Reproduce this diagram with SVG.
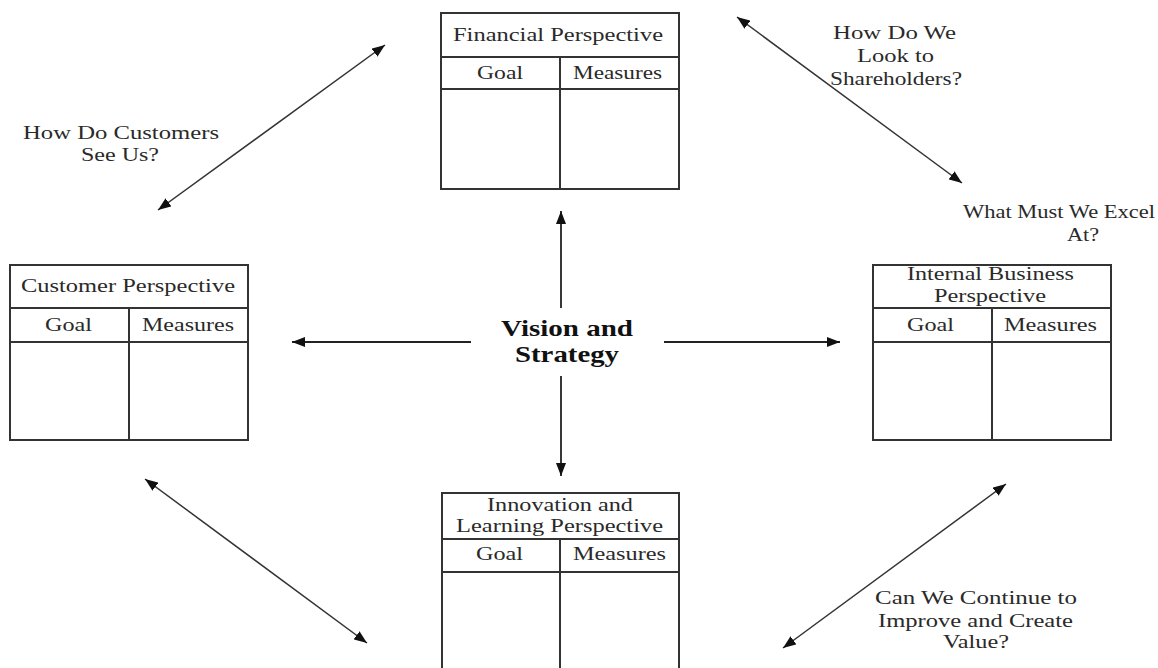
<svg xmlns="http://www.w3.org/2000/svg" width="1158" height="668" viewBox="0 0 1158 668">
<defs>
<marker id="ah" viewBox="0 0 13 10" refX="13" refY="5" markerWidth="13" markerHeight="10" markerUnits="userSpaceOnUse" orient="auto-start-reverse">
<path d="M0,0 L13,5 L0,10 z" fill="#111"/>
</marker>
<style>
.box{fill:#fff;stroke:#333;stroke-width:2}
.ln{stroke:#333;stroke-width:2;fill:none}
.t{font-family:"Liberation Serif","Times New Roman",serif;font-size:19px;fill:#2a2a2a}
.b{font-family:"Liberation Serif","Times New Roman",serif;font-size:23px;font-weight:bold;fill:#111}
.c{stroke:#333;stroke-width:1.5;fill:none;marker-start:url(#ah);marker-end:url(#ah)}
.c1{stroke:#222;stroke-width:1.8;fill:none;marker-end:url(#ah)}
</style>
</defs>
<rect width="1158" height="668" fill="#fff"/>

<g id="financial">
<rect class="box" x="441" y="13" width="238" height="176"/>
<path class="ln" d="M441,57 H679 M441,89 H679 M560,57 V189"/>
<text class="t" x="453" y="41" textLength="210" lengthAdjust="spacingAndGlyphs">Financial Perspective</text>
<text class="t" x="477" y="79" textLength="46" lengthAdjust="spacingAndGlyphs">Goal</text>
<text class="t" x="573" y="79" textLength="89" lengthAdjust="spacingAndGlyphs">Measures</text>
</g>

<g id="customer">
<rect class="box" x="10" y="265" width="238" height="175"/>
<path class="ln" d="M10,308 H248 M10,342 H248 M129,308 V440"/>
<text class="t" x="21" y="292" textLength="214" lengthAdjust="spacingAndGlyphs">Customer Perspective</text>
<text class="t" x="45" y="331" textLength="47" lengthAdjust="spacingAndGlyphs">Goal</text>
<text class="t" x="142" y="331" textLength="92" lengthAdjust="spacingAndGlyphs">Measures</text>
</g>

<g id="internal">
<rect class="box" x="873" y="265" width="238" height="175"/>
<path class="ln" d="M873,308 H1111 M873,342 H1111 M992,308 V440"/>
<text class="t" x="907" y="280" textLength="167" lengthAdjust="spacingAndGlyphs">Internal Business</text>
<text class="t" x="934" y="302" textLength="112" lengthAdjust="spacingAndGlyphs">Perspective</text>
<text class="t" x="907" y="331" textLength="47" lengthAdjust="spacingAndGlyphs">Goal</text>
<text class="t" x="1004" y="331" textLength="93" lengthAdjust="spacingAndGlyphs">Measures</text>
</g>

<g id="innovation">
<rect class="box" x="442" y="493" width="237" height="200"/>
<path class="ln" d="M442,539 H679 M442,572 H679 M560,539 V693"/>
<text class="t" x="487" y="511" textLength="146" lengthAdjust="spacingAndGlyphs">Innovation and</text>
<text class="t" x="456" y="532" textLength="207" lengthAdjust="spacingAndGlyphs">Learning Perspective</text>
<text class="t" x="476" y="560" textLength="47" lengthAdjust="spacingAndGlyphs">Goal</text>
<text class="t" x="573" y="560" textLength="93" lengthAdjust="spacingAndGlyphs">Measures</text>
</g>

<g id="vision">
<text class="b" x="501" y="336" textLength="132" lengthAdjust="spacingAndGlyphs">Vision and</text>
<text class="b" x="515" y="362" textLength="104" lengthAdjust="spacingAndGlyphs">Strategy</text>
</g>

<g id="connectors">
<line class="c1" x1="561" y1="308" x2="561" y2="211"/>
<line class="c1" x1="561" y1="376" x2="561" y2="476"/>
<line class="c1" x1="471" y1="342" x2="292" y2="342"/>
<line class="c1" x1="664" y1="342" x2="840" y2="342"/>
<line class="c" x1="158" y1="210" x2="385" y2="45"/>
<line class="c" x1="737" y1="17" x2="962" y2="183"/>
<line class="c" x1="145" y1="479" x2="367" y2="643"/>
<line class="c" x1="1006" y1="484" x2="783" y2="648"/>
</g>

<g id="labels">
<text class="t" x="23" y="139" textLength="196" lengthAdjust="spacingAndGlyphs">How Do Customers</text>
<text class="t" x="81" y="161" textLength="78" lengthAdjust="spacingAndGlyphs">See Us?</text>
<text class="t" x="833" y="39" textLength="123" lengthAdjust="spacingAndGlyphs">How Do We</text>
<text class="t" x="857" y="62" textLength="77" lengthAdjust="spacingAndGlyphs">Look to</text>
<text class="t" x="830" y="85" textLength="132" lengthAdjust="spacingAndGlyphs">Shareholders?</text>
<text class="t" x="963" y="218" textLength="192" lengthAdjust="spacingAndGlyphs">What Must We Excel</text>
<text class="t" x="1067" y="241" textLength="32" lengthAdjust="spacingAndGlyphs">At?</text>
<text class="t" x="875" y="604" textLength="202" lengthAdjust="spacingAndGlyphs">Can We Continue to</text>
<text class="t" x="878" y="627" textLength="195" lengthAdjust="spacingAndGlyphs">Improve and Create</text>
<text class="t" x="943" y="648" textLength="66" lengthAdjust="spacingAndGlyphs">Value?</text>
</g>
</svg>
